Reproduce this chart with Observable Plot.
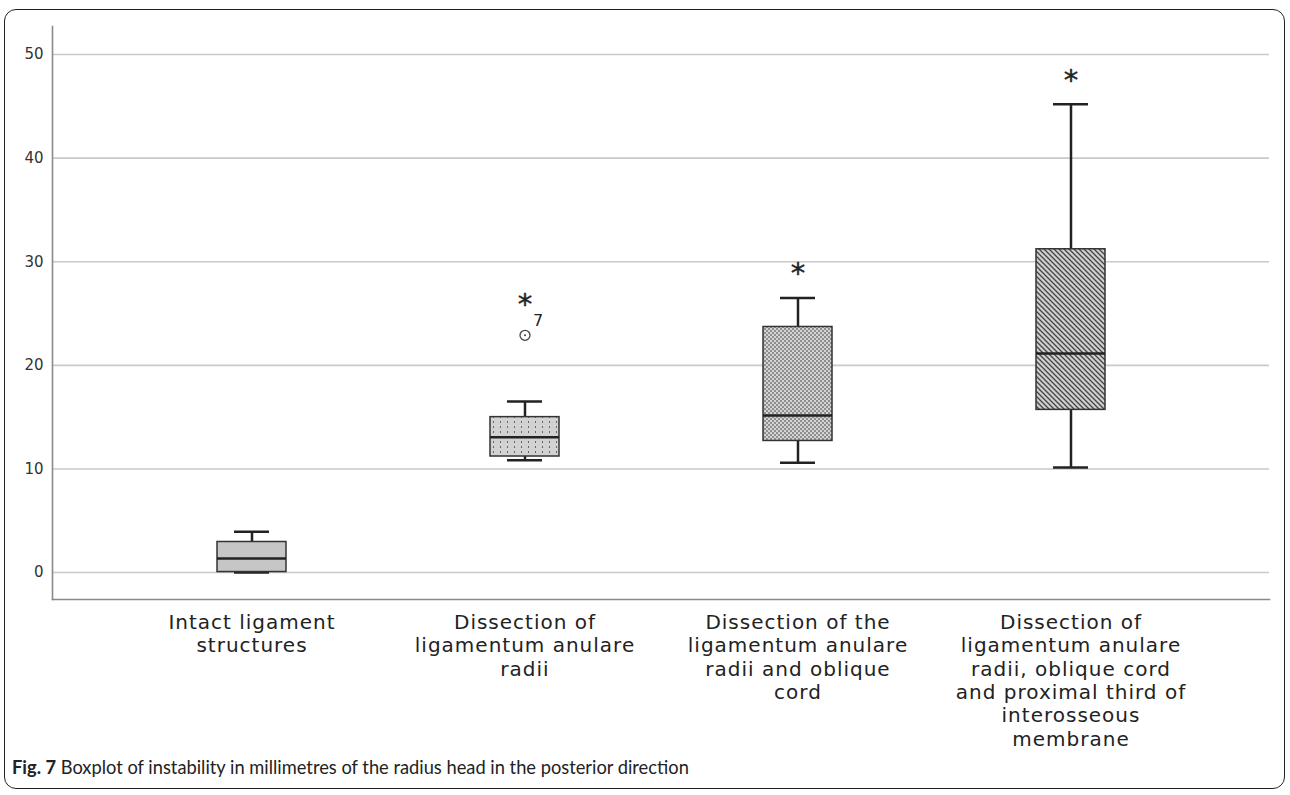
<!DOCTYPE html>
<html><head><meta charset="utf-8">
<script src="https://cdn.jsdelivr.net/npm/d3@7"></script>
<script src="https://cdn.jsdelivr.net/npm/@observablehq/plot@0.6"></script>
<style>
body{margin:0;background:#fff;}
#frame{position:absolute;left:4px;top:9px;width:1279px;height:778px;border:1.5px solid #222;border-radius:12px;}
#chart{position:absolute;left:0;top:0;}
#caption{position:absolute;left:12px;top:756px;font-family:Lato,"Noto Sans",sans-serif;font-size:18.3px;color:#222;white-space:nowrap;}
</style></head>
<body>
<div id="frame"></div>
<div id="chart"></div>
<div id="caption"><b>Fig. 7</b> Boxplot of instability in millimetres of the radius head in the posterior direction</div>
<script>
const categories = [
  "Intact ligament structures",
  "Dissection of ligamentum anulare radii",
  "Dissection of the ligamentum anulare radii and oblique cord",
  "Dissection of ligamentum anulare radii, oblique cord and proximal third of interosseous membrane"
];
const categoryLabels = [
  "Intact ligament\nstructures",
  "Dissection of\nligamentum anulare\nradii",
  "Dissection of the\nligamentum anulare\nradii and oblique\ncord",
  "Dissection of\nligamentum anulare\nradii, oblique cord\nand proximal third of\ninterosseous\nmembrane"
];
const whiskerLow  = [0.0, 10.85, 10.6, 10.15];
const quartile1   = [0.05, 11.2, 12.7, 15.7];
const medians     = [1.35, 13.05, 15.15, 21.15];
const quartile3   = [2.95, 15.0, 23.7, 31.2];
const whiskerHigh = [3.95, 16.5, 26.5, 45.2];
const outlierCats   = [categories[1]];
const outlierValues = [22.9];
const outlierLabels = ["7"];
const extremeCats   = [categories[1], categories[2], categories[3]];
const extremeValues = [26.4, 29.4, 48.0];
const yTicks = [0, 10, 20, 30, 40, 50];

const patternIds = ["pSolid", "pDots", "pChecker", "pHatch"];
const rows = categories.map((c, i) => ({cat: c, lo: whiskerLow[i], q1: quartile1[i], med: medians[i], q3: quartile3[i], hi: whiskerHigh[i]}));
const outliers = outlierCats.map((c, i) => ({cat: c, value: outlierValues[i], label: outlierLabels[i]}));
const extremes = extremeCats.map((c, i) => ({cat: c, value: extremeValues[i]}));

const ink = "#222";
const chart = Plot.plot({
  width: 1290,
  height: 760,
  marginLeft: 52,
  marginRight: 21,
  marginTop: 26,
  marginBottom: 161,
  style: {fontFamily: "'DejaVu Sans', sans-serif", color: ink, background: "transparent"},
  x: {type: "band", domain: categories, paddingInner: 0.748, paddingOuter: 0.595, label: null},
  y: {domain: [-2.6, 52.7], label: null},
  marks: [
    Plot.ruleY(yTicks, {stroke: "#c9c9c9", strokeWidth: 1.6}),
    Plot.frame({anchor: "left", stroke: "#8a8a8a", strokeWidth: 1.6}),
    Plot.frame({anchor: "bottom", stroke: "#8a8a8a", strokeWidth: 1.6}),
    Plot.ruleX(rows, {x: "cat", y1: "lo", y2: "q1", stroke: ink, strokeWidth: 2.5}),
    Plot.ruleX(rows, {x: "cat", y1: "q3", y2: "hi", stroke: ink, strokeWidth: 2.5}),
    Plot.tickY(rows, {x: "cat", y: "lo", insetLeft: 17, insetRight: 17, stroke: ink, strokeWidth: 2.5}),
    Plot.tickY(rows, {x: "cat", y: "hi", insetLeft: 17, insetRight: 17, stroke: ink, strokeWidth: 2.5}),
    ...rows.map((r, i) => Plot.barY([r], {x: "cat", y1: "q1", y2: "q3", fill: `url(#${patternIds[i]})`, stroke: "#333", strokeWidth: 1.5})),
    Plot.tickY(rows, {x: "cat", y: "med", stroke: ink, strokeWidth: 2.5}),
    Plot.dot(outliers, {x: "cat", y: "value", r: 5, stroke: "#444", fill: "white", strokeWidth: 1.3}),
    Plot.dot(outliers, {x: "cat", y: "value", r: 1, fill: "#444", stroke: null}),
    Plot.text(outliers, {x: "cat", y: "value", text: "label", dx: 13, dy: -14, fontSize: 16, fill: ink}),
    Plot.text(extremes, {x: "cat", y: "value", text: () => "*", fontSize: 29, dy: 6, fill: ink, stroke: ink, strokeWidth: 0.4}),
    Plot.axisY({ticks: yTicks, tickSize: 0, tickPadding: 9, fontSize: 15, fill: "#333"}),
    Plot.axisX({tickSize: 0, tickPadding: 13, fontSize: 20, lineHeight: 1.165, fill: ink,
      tickFormat: c => categoryLabels[categories.indexOf(c)]})
  ]
});

d3.select(chart).selectAll("[aria-label='x-axis tick label'] text").style("letter-spacing", "1px");

const defs = d3.select(chart).insert("defs", ":first-child");
defs.append("pattern").attr("id", "pSolid").attr("patternUnits", "userSpaceOnUse").attr("width", 4).attr("height", 4)
  .append("rect").attr("width", 4).attr("height", 4).attr("fill", "#c6c6c6");
const pd = defs.append("pattern").attr("id", "pDots").attr("patternUnits", "userSpaceOnUse").attr("width", 7).attr("height", 5);
pd.append("rect").attr("width", 7).attr("height", 5).attr("fill", "#d2d2d2");
pd.append("rect").attr("x", 3).attr("y", 1).attr("width", 1).attr("height", 2).attr("fill", "#666");
const pc = defs.append("pattern").attr("id", "pChecker").attr("patternUnits", "userSpaceOnUse").attr("width", 4).attr("height", 4);
pc.append("rect").attr("width", 4).attr("height", 4).attr("fill", "#d4d4d4");
pc.append("rect").attr("width", 2).attr("height", 2).attr("fill", "#8e8e8e");
pc.append("rect").attr("x", 2).attr("y", 2).attr("width", 2).attr("height", 2).attr("fill", "#8e8e8e");
const ph = defs.append("pattern").attr("id", "pHatch").attr("patternUnits", "userSpaceOnUse").attr("width", 5).attr("height", 5);
ph.append("rect").attr("width", 5).attr("height", 5).attr("fill", "#d0d0d0");
ph.append("path").attr("d", "M0,0L5,5M-1,4L1,6M4,-1L6,1").attr("stroke", "#444").attr("stroke-width", 1.3);

document.getElementById("chart").appendChild(chart);
</script>
</body></html>
